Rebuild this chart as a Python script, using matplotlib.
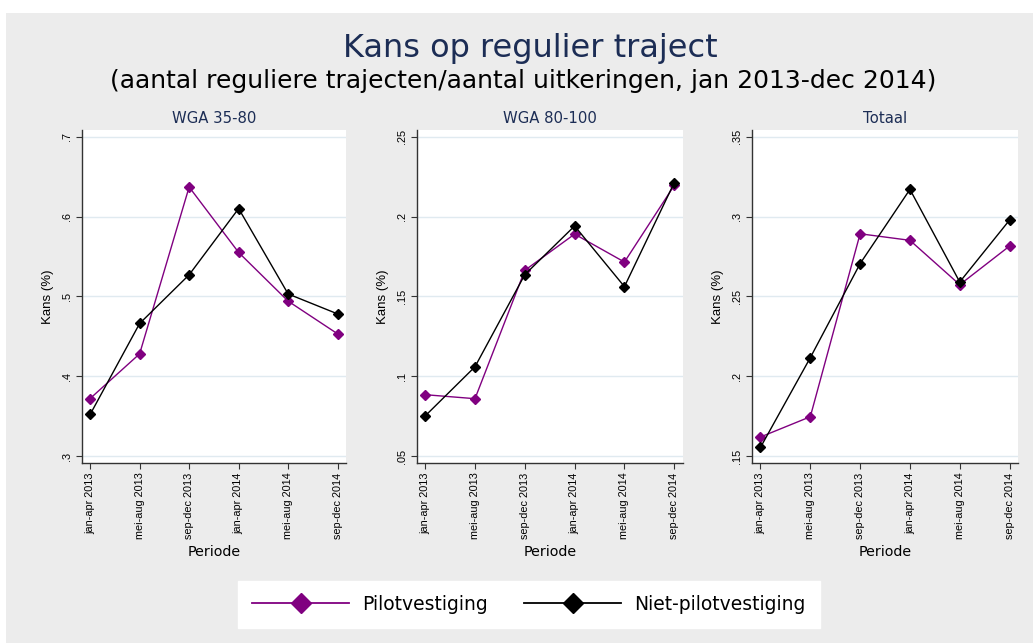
import matplotlib
matplotlib.use("Agg")
import matplotlib.pyplot as plt
from matplotlib.lines import Line2D
from matplotlib.patches import Rectangle

plt.rcParams['font.family'] = ['Liberation Sans', 'DejaVu Sans']
WIDE = ['DejaVu Sans']  # horizontal text in the source looks stretched sideways

periods = ['jan-apr 2013', 'mei-aug 2013', 'sep-dec 2013',
           'jan-apr 2014', 'mei-aug 2014', 'sep-dec 2014']
panel_titles = ['WGA 35-80', 'WGA 80-100', 'Totaal']

pilot_35_80 = [0.372, 0.428, 0.637, 0.555, 0.494, 0.453]
niet_35_80 = [0.352, 0.466, 0.527, 0.610, 0.503, 0.478]
pilot_80_100 = [0.0884, 0.0859, 0.1663, 0.189, 0.1715, 0.2195]
niet_80_100 = [0.0751, 0.1059, 0.1636, 0.1941, 0.1561, 0.2212]
pilot_totaal = [0.1619, 0.1746, 0.2892, 0.2851, 0.2573, 0.2815]
niet_totaal = [0.1554, 0.2116, 0.2705, 0.317, 0.259, 0.2978]

yticks_35_80 = [0.3, 0.4, 0.5, 0.6, 0.7]
ylabels_35_80 = ['.3', '.4', '.5', '.6', '.7']
yticks_80_100 = [0.05, 0.1, 0.15, 0.2, 0.25]
ylabels_80_100 = ['.05', '.1', '.15', '.2', '.25']
yticks_totaal = [0.15, 0.2, 0.25, 0.3, 0.35]
ylabels_totaal = ['.15', '.2', '.25', '.3', '.35']

PURPLE = '#800080'
NAVY = '#1c2d55'
BG = '#ececec'
GRID = '#e0eaf0'

fig = plt.figure(figsize=(10.33, 6.43), dpi=100)
fig.patch.set_facecolor('white')
fig.patches.append(Rectangle((0.006, 0), 0.994, 0.98, transform=fig.transFigure,
                             facecolor=BG, edgecolor='none', zorder=-10))

fig.text(0.513, 0.925, 'Kans op regulier traject', ha='center', va='center',
         fontsize=23, color=NAVY, family=WIDE)
fig.text(0.506, 0.874, '(aantal reguliere trajecten/aantal uitkeringen, jan 2013-dec 2014)',
         ha='center', va='center', fontsize=18, color='black', family=WIDE)

panels = [
    (pilot_35_80, niet_35_80, yticks_35_80, ylabels_35_80, 0.0791, 0.2559),
    (pilot_80_100, niet_80_100, yticks_80_100, ylabels_80_100, 0.4034, 0.2575),
    (pilot_totaal, niet_totaal, yticks_totaal, ylabels_totaal, 0.7280, 0.2575),
]

x = list(range(len(periods)))
for (pil, niet, yt, yl, left, width), title in zip(panels, panel_titles):
    ax = fig.add_axes([left, 0.2804, width, 0.5174])
    ax.set_facecolor('white')
    span = yt[-1] - yt[0]
    pad = span * 0.021
    ax.set_ylim(yt[0] - pad, yt[-1] + pad)
    ax.set_xlim(-0.17, len(periods) - 1 + 0.17)
    ax.plot(x, pil, color=PURPLE, lw=1.0, marker='D', ms=5.5, zorder=3)
    ax.plot(x, niet, color='black', lw=1.0, marker='D', ms=5.5, zorder=4)
    ax.set_yticks(yt)
    ax.set_yticklabels(yl, rotation=90, va='center', fontsize=7.8)
    ax.set_xticks(x)
    ax.set_xticklabels(periods, rotation=90, fontsize=7.8)
    ax.grid(axis='y', color=GRID, lw=1.0)
    ax.set_axisbelow(True)
    for s in ['top', 'right']:
        ax.spines[s].set_visible(False)
    for s in ['left', 'bottom']:
        ax.spines[s].set_color('#333333')
        ax.spines[s].set_linewidth(1.0)
    ax.tick_params(length=4, width=0.8, color='#333333', pad=3)
    ax.set_ylabel('Kans (%)', fontsize=9.5, labelpad=6)
    ax.set_xlabel('Periode', fontsize=10.3, labelpad=4, family=WIDE)
    ax.set_title(title, fontsize=10.7, color=NAVY, pad=5, family=WIDE)

handles = [
    Line2D([], [], color=PURPLE, lw=1.3, marker='D', ms=10),
    Line2D([], [], color='black', lw=1.3, marker='D', ms=10),
]
leg = fig.legend(handles, ['Pilotvestiging', 'Niet-pilotvestiging'],
                 loc='center', bbox_to_anchor=(0.512, 0.0605), ncol=2,
                 prop={'family': WIDE, 'size': 13.5}, frameon=True, fancybox=False,
                 handlelength=5.2, columnspacing=1.9, borderpad=0.75,
                 handletextpad=0.7)
leg.get_frame().set_facecolor('white')
leg.get_frame().set_edgecolor('white')
leg.get_frame().set_alpha(1)

fig.savefig('out.png', dpi=100, facecolor=fig.get_facecolor())
